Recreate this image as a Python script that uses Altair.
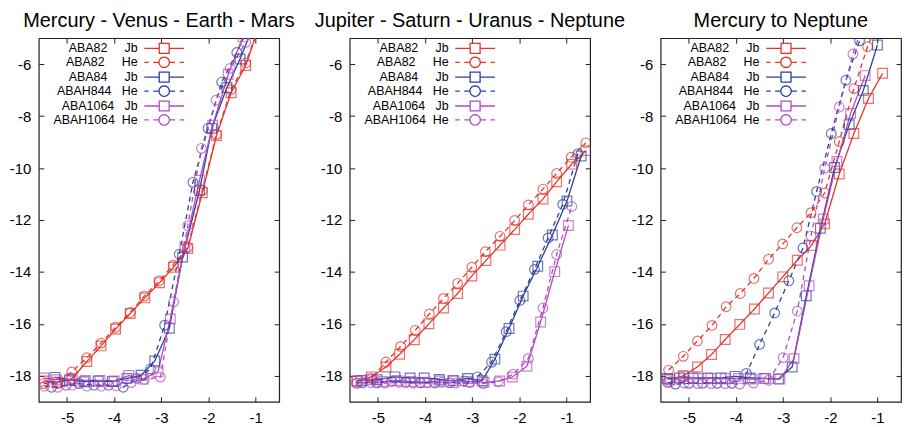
import math
import altair as alt
import pandas as pd

NB = "\u00a0"
names = ["ABA82", "ABA82", "ABA84", "ABAH844", "ABA1064", "ABAH1064"]
kinds = ["Jb", "He", "Jb", "He", "Jb", "He"]
gaps = [5, 5, 5, 3, 3, 2]
labels = [n + NB * g + k for n, g, k in zip(names, gaps, kinds)]
colors = ["#e5332a", "#e5332a", "#2b3f9e", "#2b3f9e", "#b24bc0", "#b24bc0"]
dashes = [[1, 0], [5, 4], [1, 0], [5, 4], [1, 0], [5, 4]]
shapes = ["square", "circle", "square", "circle", "square", "circle"]

panel_titles = ["Mercury - Venus - Earth - Mars",
                "Jupiter - Saturn - Uranus - Neptune",
                "Mercury to Neptune"]
x_ticks = [-5, -4, -3, -2, -1]
y_ticks = [-18, -16, -14, -12, -10, -8, -6]

# ---------------- Panel 1 ----------------
p1_aba82_jb_x = [-5.50, -5.20, -4.89, -4.58, -4.28, -3.97, -3.66, -3.35, -3.04, -2.74, -2.44, -2.13, -1.83, -1.52, -1.21, -0.90]
p1_aba82_jb_y = [-18.20, -18.25, -18.10, -17.45, -16.85, -16.20, -15.60, -15.00, -14.42, -13.82, -13.10, -10.95, -8.75, -7.10, -6.05, -4.40]
p1_aba82_he_x = [-5.50, -5.20, -4.90, -4.58, -4.28, -3.97, -3.66, -3.36, -3.05, -2.75, -2.44, -2.13, -1.83, -1.52, -1.21, -0.90]
p1_aba82_he_y = [-18.30, -18.30, -17.85, -17.30, -16.74, -16.13, -15.56, -14.93, -14.35, -13.74, -13.05, -10.85, -8.70, -6.98, -5.95, -4.40]
p1_aba84_jb_x = [-5.26, -4.95, -4.64, -4.34, -4.04, -3.73, -3.43, -3.14, -2.83, -2.55, -2.19, -1.93, -1.61, -1.33, -1.02]
p1_aba84_jb_y = [-18.06, -18.16, -18.23, -18.20, -18.22, -18.10, -17.98, -17.43, -16.17, -13.43, -10.86, -8.47, -6.90, -5.80, -4.40]
p1_abah844_he_x = [-5.33, -5.02, -4.75, -4.43, -4.12, -3.81, -3.52, -3.23, -2.93, -2.62, -2.33, -2.01, -1.72, -1.40, -1.10]
p1_abah844_he_y = [-18.44, -18.36, -18.30, -18.36, -18.36, -18.44, -18.10, -17.74, -16.05, -13.32, -10.55, -8.47, -6.69, -5.55, -4.40]
p1_aba1064_jb_x = [-5.50, -5.23, -4.92, -4.61, -4.30, -4.00, -3.69, -3.39, -3.07, -2.81, -2.50, -2.19, -1.91, -1.58, -1.27]
p1_aba1064_jb_y = [-18.08, -18.15, -18.14, -18.18, -18.18, -18.20, -17.99, -18.13, -17.84, -15.81, -13.03, -10.47, -8.35, -6.39, -4.95]
p1_abah1064_he_x = [-5.48, -5.20, -4.89, -4.58, -4.27, -3.96, -3.64, -3.36, -3.02, -2.74, -2.44, -2.15, -1.84, -1.54, -1.21]
p1_abah1064_he_y = [-18.40, -18.44, -18.36, -18.40, -18.40, -18.38, -18.26, -18.14, -18.05, -15.15, -12.22, -9.24, -7.39, -6.16, -5.16]

# ---------------- Panel 2 ----------------
p2_aba82_jb_x = [-5.45, -5.14, -4.83, -4.54, -4.23, -3.92, -3.61, -3.31, -3.01, -2.71, -2.41, -2.10, -1.81, -1.50, -1.21, -0.89, -0.59]
p2_aba82_jb_y = [-18.20, -18.04, -17.66, -17.17, -16.61, -16.00, -15.39, -14.83, -14.16, -13.56, -12.97, -12.37, -11.78, -11.19, -10.53, -9.85, -9.33]
p2_aba82_he_x = [-5.45, -5.14, -4.83, -4.52, -4.21, -3.91, -3.61, -3.31, -3.01, -2.72, -2.41, -2.10, -1.81, -1.50, -1.21, -0.90, -0.59]
p2_aba82_he_y = [-18.28, -18.10, -17.47, -16.87, -16.25, -15.62, -15.02, -14.44, -13.82, -13.22, -12.63, -12.02, -11.42, -10.81, -10.21, -9.58, -9.03]
p2_aba84_jb_x = [-5.36, -5.02, -4.64, -4.32, -4.02, -3.70, -3.41, -3.10, -2.79, -2.52, -2.22, -1.92, -1.61, -1.30, -0.99, -0.69]
p2_aba84_jb_y = [-18.18, -18.15, -18.04, -18.08, -18.08, -18.14, -18.19, -18.10, -18.19, -17.36, -16.18, -14.93, -13.78, -12.58, -11.27, -9.54]
p2_abah844_he_x = [-5.33, -5.02, -4.71, -4.41, -4.10, -3.79, -3.48, -3.18, -2.89, -2.59, -2.28, -1.99, -1.68, -1.39, -1.08, -0.76]
p2_abah844_he_y = [-18.27, -18.27, -18.22, -18.25, -18.27, -18.27, -18.27, -18.20, -18.04, -17.47, -16.30, -15.10, -13.90, -12.69, -11.40, -9.45]
p2_aba1064_jb_x = [-5.44, -5.17, -4.90, -4.60, -4.30, -4.00, -3.69, -3.40, -3.08, -2.75, -2.42, -2.15, -1.84, -1.55, -1.25, -0.96]
p2_aba1064_jb_y = [-18.20, -18.15, -18.22, -18.18, -18.22, -18.25, -18.20, -18.18, -18.22, -18.25, -18.20, -18.05, -17.63, -15.93, -13.99, -12.21]
p2_abah1064_he_x = [-5.45, -5.15, -4.85, -4.55, -4.25, -3.95, -3.65, -3.35, -3.05, -2.76, -2.45, -2.13, -1.81, -1.50, -1.21, -0.89]
p2_abah1064_he_y = [-18.28, -18.26, -18.28, -18.25, -18.28, -18.27, -18.25, -18.28, -18.26, -18.30, -18.23, -17.94, -17.33, -15.39, -13.33, -11.48]

# ---------------- Panel 3 ----------------
p3_aba82_jb_x = [-5.41, -5.12, -4.82, -4.52, -4.23, -3.92, -3.61, -3.31, -3.01, -2.70, -2.40, -2.12, -1.81, -1.50, -1.19, -0.89]
p3_aba82_jb_y = [-18.14, -18.00, -17.66, -17.18, -16.60, -16.02, -15.43, -14.81, -14.19, -13.55, -12.98, -12.15, -10.23, -8.67, -7.32, -6.35]
p3_aba82_he_x = [-5.43, -5.12, -4.82, -4.51, -4.21, -3.91, -3.62, -3.31, -3.01, -2.71, -2.41, -2.12, -1.81, -1.50, -1.21, -0.92]
p3_aba82_he_y = [-17.78, -17.25, -16.66, -16.06, -15.34, -14.83, -14.25, -13.51, -12.92, -12.30, -11.72, -10.96, -8.98, -6.94, -5.33, -4.00]
p3_aba84_jb_x = [-5.46, -5.20, -4.91, -4.60, -4.32, -4.02, -3.70, -3.41, -3.10, -2.81, -2.51, -2.21, -1.91, -1.60, -1.30, -1.00]
p3_aba84_jb_y = [-18.10, -18.08, -18.08, -18.08, -18.08, -18.02, -18.08, -18.10, -18.12, -17.66, -14.92, -12.32, -9.98, -8.33, -7.01, -5.26]
p3_abah844_he_x = [-5.45, -5.29, -5.00, -4.71, -4.40, -4.09, -3.78, -3.50, -3.18, -2.88, -2.58, -2.29, -1.98, -1.67, -1.38, -1.08]
p3_abah844_he_y = [-18.25, -18.32, -18.29, -18.29, -18.29, -18.29, -17.91, -16.79, -15.58, -14.34, -13.08, -10.90, -8.67, -6.62, -5.10, -3.80]
p3_aba1064_jb_x = [-5.45, -5.10, -4.81, -4.54, -4.23, -3.95, -3.66, -3.37, -3.07, -2.77, -2.45, -2.15, -1.86, -1.57, -1.26]
p3_aba1064_jb_y = [-18.13, -18.03, -18.10, -18.10, -18.10, -18.10, -18.13, -18.10, -18.13, -17.34, -14.53, -11.96, -9.75, -7.90, -6.44]
p3_abah1064_he_x = [-5.39, -5.10, -4.81, -4.53, -4.23, -3.92, -3.63, -3.31, -3.00, -2.70, -2.41, -2.12, -1.81, -1.52, -1.22]
p3_abah1064_he_y = [-18.23, -18.28, -18.30, -18.30, -18.30, -18.32, -18.28, -18.17, -17.30, -15.51, -12.62, -10.00, -7.65, -5.61, -4.00]

panels = [
    [(p1_aba82_jb_x, p1_aba82_jb_y), (p1_aba82_he_x, p1_aba82_he_y), (p1_aba84_jb_x, p1_aba84_jb_y),
     (p1_abah844_he_x, p1_abah844_he_y), (p1_aba1064_jb_x, p1_aba1064_jb_y), (p1_abah1064_he_x, p1_abah1064_he_y)],
    [(p2_aba82_jb_x, p2_aba82_jb_y), (p2_aba82_he_x, p2_aba82_he_y), (p2_aba84_jb_x, p2_aba84_jb_y),
     (p2_abah844_he_x, p2_abah844_he_y), (p2_aba1064_jb_x, p2_aba1064_jb_y), (p2_abah1064_he_x, p2_abah1064_he_y)],
    [(p3_aba82_jb_x, p3_aba82_jb_y), (p3_aba82_he_x, p3_aba82_he_y), (p3_aba84_jb_x, p3_aba84_jb_y),
     (p3_abah844_he_x, p3_abah844_he_y), (p3_aba1064_jb_x, p3_aba1064_jb_y), (p3_abah1064_he_x, p3_abah1064_he_y)],
]

FONT = "Liberation Sans"

# legend key glyphs (line + marker), drawn as polygon paths so their bounds stay tight
def _circle_path(r, n=20):
    pts = []
    for k in range(n):
        a = 2 * math.pi * k / n
        pts.append("%.3f,%.3f" % (r * math.cos(a), r * math.sin(a)))
    return "M" + "L".join(pts) + "Z"


JB_PATH = "M-8,0H-2M2,0H8M-2,-2H2V2H-2Z"
HE_PATH = "M-8,0H-6.2M-4.4,0H-2.1M2.1,0H4.4M6.2,0H8" + _circle_path(2.1)
SYMBOL_EXPR = "indexof(datum.value, 'He') >= 0 ? '%s' : '%s'" % (HE_PATH, JB_PATH)


def reorder(seq, order):
    return [seq[k] for k in order]


# distinct domain orders keep Vega-Lite from merging the hidden legends into the color legend
ORD_STROKE = [5, 4, 3, 2, 1, 0]
ORD_SHAPE = [1, 2, 3, 4, 5, 0]
ORD_DASH = [2, 3, 4, 5, 0, 1]


def make_panel(i):
    rows = []
    for lab, (xs, ys) in zip(labels, panels[i]):
        for xv, yv in zip(xs, ys):
            rows.append({"series": lab, "x": xv, "y": yv})
    d = pd.DataFrame(rows)
    base = alt.Chart(d)
    xsc = alt.Scale(domain=[-5.6, -0.5], nice=False, zero=False)
    ysc = alt.Scale(domain=[-19, -5], nice=False, zero=False)
    stroke_enc = alt.Stroke("series:N",
                            scale=alt.Scale(domain=reorder(labels, ORD_STROKE), range=reorder(colors, ORD_STROKE)),
                            legend=None)
    legend = alt.Legend(
        title=None, orient="none", legendX=0, legendY=4,
        labelAlign="right", labelOffset={"expr": "-33"}, symbolOffset=120,
        symbolType={"expr": SYMBOL_EXPR}, symbolSize=25,
        symbolStrokeWidth=1.3, symbolFillColor="transparent",
        labelFont=FONT, labelFontSize=12.5, labelColor="black",
        labelBaseline="middle", rowPadding={"expr": "-3.5"}, padding=0,
    )
    lines = base.mark_line(clip=True, strokeWidth=1.3).encode(
        x=alt.X("x:Q", scale=xsc, title=None,
                axis=alt.Axis(orient="bottom", values=x_ticks, offset=-5, tickSize=5,
                              labelPadding=9, domain=False, grid=False,
                              labelExpr="'' + datum.value")),
        y=alt.Y("y:Q", scale=ysc, title=None,
                axis=alt.Axis(orient="left", values=y_ticks, offset=-5, tickSize=5,
                              labelPadding=8, domain=False, grid=False,
                              labelExpr="'' + datum.value")),
        stroke=stroke_enc,
        strokeDash=alt.StrokeDash("series:N",
                                  scale=alt.Scale(domain=reorder(labels, ORD_DASH), range=reorder(dashes, ORD_DASH)),
                                  legend=None),
    )
    points = base.mark_point(clip=True, filled=False, size=95, strokeWidth=1.2).encode(
        x=alt.X("x:Q", scale=xsc, title=None,
                axis=alt.Axis(orient="top", values=x_ticks, offset=-5, tickSize=5,
                              labels=False, domain=False, grid=False)),
        y=alt.Y("y:Q", scale=ysc, title=None,
                axis=alt.Axis(orient="right", values=y_ticks, offset=-5, tickSize=5,
                              labels=False, domain=False, grid=False)),
        stroke=stroke_enc,
        shape=alt.Shape("series:N",
                        scale=alt.Scale(domain=reorder(labels, ORD_SHAPE), range=reorder(shapes, ORD_SHAPE)),
                        legend=None),
    )
    key = base.transform_filter("false").mark_line().encode(
        x=alt.X("x:Q", scale=xsc, axis=None),
        y=alt.Y("y:Q", scale=ysc, axis=None),
        color=alt.Color("series:N", scale=alt.Scale(domain=labels, range=colors), legend=legend),
    )
    return alt.layer(lines, points, key).resolve_axis(x="independent", y="independent").properties(
        width=242, height=366,
        title=alt.TitleParams(text=panel_titles[i], fontSize=20, font=FONT,
                              fontWeight="normal", color="black", offset=7),
    )


chart = alt.hconcat(make_panel(0), make_panel(1), make_panel(2), spacing=71, bounds="flush").resolve_scale(
    color="independent", stroke="independent", strokeDash="independent", shape="independent"
).properties(
    padding={"left": 0, "top": 0, "right": 0, "bottom": 0}
).configure_view(
    stroke="#222222", strokeWidth=1.2
).configure_axis(
    labelFont=FONT, labelFontSize=15, labelColor="black", tickColor="#222222", tickWidth=1
)

chart.save("out.html", embed_options={"renderer": "svg", "actions": False})
